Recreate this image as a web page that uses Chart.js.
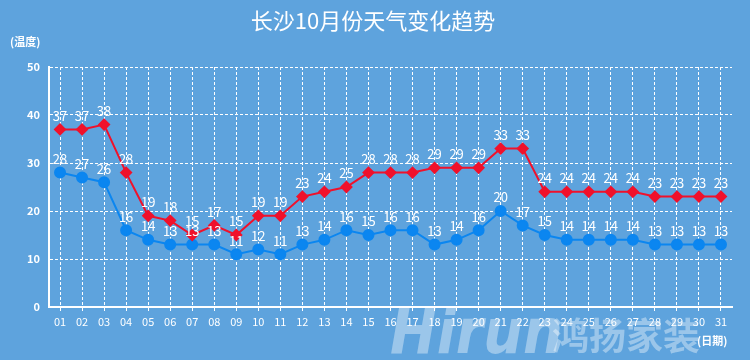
<!DOCTYPE html>
<html>
<head>
<meta charset="utf-8">
<script src="https://cdn.jsdelivr.net/npm/chart.js@4"></script>
<style>
  html, body { margin: 0; padding: 0; background: #5ea3dd; }
  #wrap { width: 750px; height: 360px; }
</style>
</head>
<body>
<div id="wrap"><canvas id="weatherChart" width="750" height="360"></canvas></div>
<script>
// Data
const days = ['01','02','03','04','05','06','07','08','09','10','11','12','13','14','15','16',
              '17','18','19','20','21','22','23','24','25','26','27','28','29','30','31'];
const highTemps = [37,37,38,28,19,18,15,17,15,19,19,23,24,25,28,28,28,29,29,29,33,33,24,24,24,24,24,23,23,23,23];
const lowTemps  = [28,27,26,16,14,13,13,13,11,12,11,13,14,16,15,16,16,13,14,16,20,17,15,14,14,14,14,13,13,13,13];
const yTicks = [0,10,20,30,40,50];

const cjk = '"Noto Sans CJK SC", "Noto Sans", sans-serif';

// watermark under everything, titles + point labels on top
const extrasPlugin = {
  id: 'extras',
  beforeDraw(chart) {
    const ctx = chart.ctx;
    ctx.save();
    ctx.fillStyle = 'rgba(255,255,255,0.38)';
    ctx.textBaseline = 'alphabetic';
    ctx.textAlign = 'left';
    ctx.font = 'italic bold 62px "Liberation Sans Narrow", "DejaVu Sans Condensed", sans-serif';
    ctx.fillText('Hirun', 390, 353);
    ctx.font = 'bold 37px ' + cjk;
    ctx.fillText('鸿扬家装', 552, 350);
    ctx.restore();
  },
  afterDatasetsDraw(chart) {
    const ctx = chart.ctx;
    ctx.save();
    ctx.fillStyle = '#ffffff';
    ctx.font = '13px ' + cjk;
    ctx.textAlign = 'center';
    ctx.textBaseline = 'bottom';
    chart.data.datasets.forEach((ds, i) => {
      const meta = chart.getDatasetMeta(i);
      meta.data.forEach((pt, j) => {
        ctx.fillText(ds.data[j], pt.x, pt.y - 7);
      });
    });
    ctx.restore();
  },
  afterDraw(chart) {
    const ctx = chart.ctx;
    ctx.save();
    ctx.fillStyle = '#ffffff';
    ctx.textBaseline = 'middle';
    ctx.textAlign = 'center';
    ctx.font = '22px ' + cjk;
    ctx.fillText('长沙10月份天气变化趋势', 373, 21);
    ctx.font = 'bold 11px ' + cjk;
    ctx.textAlign = 'left';
    ctx.fillText('(温度)', 10, 42);
    ctx.fillText('(日期)', 697, 341);
    ctx.restore();
  }
};

const ctx = document.getElementById('weatherChart').getContext('2d');
const chart = new Chart(ctx, {
  type: 'line',
  data: {
    labels: days,
    datasets: [
      {
        label: '最高温度', data: highTemps,
        borderColor: '#f0112b', backgroundColor: '#f0112b',
        borderWidth: 2, pointStyle: 'rectRot', pointRadius: 5, pointHoverRadius: 5
      },
      {
        label: '最低温度', data: lowTemps,
        borderColor: '#0b86f0', backgroundColor: '#0b86f0',
        borderWidth: 2, pointStyle: 'circle', pointRadius: 5, pointHoverRadius: 5
      }
    ]
  },
  options: {
    responsive: false,
    animation: false,
    layout: { padding: { top: 67, right: 18, left: 0, bottom: 0 } },
    plugins: { legend: { display: false }, tooltip: { enabled: false } },
    scales: {
      x: {
        offset: true,
        grid: { offset: false, color: '#ffffff', lineWidth: 1, tickLength: 5, tickColor: '#ffffff', tickBorderDash: [3, 2] },
        border: { display: true, color: '#ffffff', width: 2, dash: [3, 2] },
        ticks: { color: '#ffffff', font: { size: 11, family: cjk }, padding: 3, maxRotation: 0, autoSkip: false },
        afterFit(scale) { scale.height = 53; }
      },
      y: {
        min: 0, max: 50,
        afterBuildTicks(scale) { scale.ticks = yTicks.map(v => ({ value: v })); },
        grid: { color: '#ffffff', lineWidth: 1, drawTicks: false },
        border: { display: true, color: '#ffffff', width: 2, dash: [3, 2] },
        ticks: { color: '#ffffff', font: { size: 11, weight: 'bold', family: cjk }, padding: 9 },
        afterFit(scale) { scale.width = 49; }
      }
    }
  },
  plugins: [extrasPlugin]
});
</script>
</body>
</html>
